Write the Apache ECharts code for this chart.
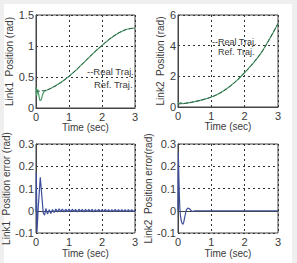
<!DOCTYPE html>
<html>
<head>
<meta charset="utf-8">
<script src="https://cdn.jsdelivr.net/npm/echarts@6/dist/echarts.min.js"></script>
<style>
  html, body { margin: 0; padding: 0; background: #efefef; }
  #wrap { position: relative; width: 297px; height: 263px; overflow: hidden; }
  #paper { position: absolute; left: 4px; top: 4px; width: 288px; height: 259px; background: #fff; }
  #chart { position: absolute; left: 0; top: 0; width: 297px; height: 263px; }
</style>
</head>
<body>
<div id="wrap">
  <div id="paper"></div>
  <div id="chart"></div>
</div>
<script>
// Link1 position (rad)
const refTime1 = [0, 0.25, 0.5, 0.75, 1, 1.25, 1.5, 1.75, 2, 2.25, 2.5, 2.75, 3];
const refPos1 = [0.27, 0.28, 0.33, 0.41, 0.51, 0.63, 0.76, 0.89, 1.01, 1.12, 1.21, 1.27, 1.29];
const realTime1 = [0, 0.02, 0.05, 0.08, 0.12, 0.16, 0.2, 0.25, 0.5, 0.75, 1, 1.25, 1.5, 1.75, 2, 2.25, 2.5, 2.75, 3];
const realPos1 = [0.33, 0.2, 0.3, 0.22, 0.12, 0.13, 0.22, 0.27, 0.33, 0.41, 0.51, 0.63, 0.76, 0.89, 1.01, 1.12, 1.21, 1.27, 1.29];

// Link2 position (rad)
const refTime2 = [0, 0.25, 0.5, 0.75, 1, 1.25, 1.5, 1.75, 2, 2.25, 2.5, 2.75, 3];
const refPos2 = [0.2, 0.25, 0.35, 0.48, 0.65, 0.9, 1.25, 1.7, 2.25, 2.85, 3.55, 4.45, 5.45];
const realTime2 = [0, 0.03, 0.08, 0.15, 0.25, 0.5, 0.75, 1, 1.25, 1.5, 1.75, 2, 2.25, 2.5, 2.75, 3];
const realPos2 = [0.3, 0.2, 0.28, 0.22, 0.25, 0.35, 0.48, 0.65, 0.9, 1.25, 1.7, 2.25, 2.85, 3.55, 4.45, 5.45];

// Link1 position error (rad)
const errTime1 = [0, 0.01, 0.03, 0.07, 0.13, 0.18, 0.22, 0.26, 0.3, 0.35, 0.4, 0.45, 0.5, 0.55,
  0.6, 0.65, 0.7, 0.75, 0.8, 0.85, 0.9, 0.95, 1, 1.05, 1.1, 1.15, 1.2, 1.25, 1.3, 1.35, 1.4, 1.45,
  1.5, 1.55, 1.6, 1.65, 1.7, 1.75, 1.8, 1.85, 1.9, 1.95, 2, 2.05, 2.1, 2.15, 2.2, 2.25, 2.3, 2.35,
  2.4, 2.45, 2.5, 2.55, 2.6, 2.65, 2.7, 2.75, 2.8, 2.85, 2.9, 2.95, 3];
const errVal1 = [0, 0.17, -0.095, 0.02, 0.15, 0.06, -0.01, -0.02, 0.01, -0.015, 0.005, -0.012, 0.006, -0.008,
  0.008, -0.005, 0.009, -0.004, 0.008, -0.005, 0.007, -0.004, 0.008, -0.005, 0.007, -0.004, 0.006, -0.005,
  0.007, -0.004, 0.006, -0.005, 0.006, -0.004, 0.006, -0.004, 0.006, -0.005, 0.005, -0.004, 0.006, -0.004,
  0.005, -0.004, 0.006, -0.004, 0.005, -0.004, 0.005, -0.004, 0.006, -0.004, 0.005, -0.004, 0.005, -0.004,
  0.005, -0.004, 0.005, -0.004, 0.005, -0.004, 0.004];

// Link2 position error (rad)
const errTime2 = [0, 0.01, 0.03, 0.06, 0.1, 0.15, 0.2, 0.25, 0.3, 0.35, 0.4, 0.45, 0.5, 1, 1.5, 2, 2.5, 3];
const errVal2 = [0, 0.26, 0.13, 0.0, -0.045, -0.06, -0.03, 0.002, 0.012, 0.008, 0.0, -0.003, 0, 0, 0, 0, 0, 0];

const timeTicks = [0, 1, 2, 3];

const font = '"Liberation Sans Narrow", "Liberation Sans", Arial, sans-serif';
const txt = '#3a3a3a';

function pairs(t, v) {
  return t.map((x, i) => [x, v[i]]);
}

let grids = [
  { left: 36, top: 15, width: 99, height: 93 },
  { left: 178, top: 15, width: 100, height: 92 },
  { left: 36, top: 144, width: 99, height: 89 },
  { left: 178, top: 144, width: 100, height: 89 }
];
grids = grids.map(g => Object.assign({ show: true, borderColor: '#444', borderWidth: 1, backgroundColor: '#fff' }, g));

const dashed = { show: true, lineStyle: { color: '#333', type: [2, 3], width: 1 } };

function xAx(idx, gap) {
  return {
    gridIndex: idx, type: 'value', min: 0, max: 3, interval: 1,
    name: 'Time (sec)', nameLocation: 'middle', nameGap: gap,
    nameTextStyle: { fontFamily: font, fontSize: 10, color: txt },
    axisLine: { show: true, lineStyle: { color: '#444' } },
    axisTick: { show: false },
    axisLabel: { fontFamily: font, fontSize: 11, color: txt, margin: 3,
      formatter: v => timeTicks.indexOf(v) >= 0 ? String(v) : '' },
    splitLine: dashed
  };
}

function yAx(idx, name, min, max, interval, gap, fmt) {
  return {
    gridIndex: idx, type: 'value', min: min, max: max, interval: interval,
    name: name, nameLocation: 'middle', nameGap: gap,
    nameTextStyle: { fontFamily: font, fontSize: 10, color: txt },
    axisLine: { show: true, lineStyle: { color: '#444' } },
    axisTick: { show: false },
    axisLabel: { fontFamily: font, fontSize: 11, color: txt, margin: 2, formatter: fmt },
    splitLine: dashed
  };
}

const fmtPos1 = v => (v === 0.5 || v === 1.5) ? String(v) : String(Math.round(v));
const fmtErr = v => {
  const r = Math.round(v * 10) / 10;
  return r === 0 ? '0' : String(r);
};

const chart = echarts.init(document.getElementById('chart'), null, { renderer: 'svg' });
chart.setOption({
  animation: false,
  backgroundColor: 'transparent',
  grid: grids,
  xAxis: [xAx(0, 13), xAx(1, 13), xAx(2, 15), xAx(3, 15)],
  yAxis: [
    yAx(0, 'Link1  Position (rad)', 0, 1.5, 0.5, 14, fmtPos1),
    yAx(1, 'Link2  Position (rad)', 0, 6, 2, 10, v => String(v)),
    yAx(2, 'Link1  Position error (rad)', -0.1, 0.3, 0.1, 19, fmtErr),
    yAx(3, 'Link2  Position error(rad)', -0.1, 0.3, 0.1, 18, fmtErr)
  ],
  graphic: [
    { type: 'text', left: 87, top: 66, style: { text: '--Real Traj.', font: '9.5px ' + font, fill: txt } },
    { type: 'text', left: 94, top: 79, style: { text: 'Ref. Traj.', font: '9.5px ' + font, fill: txt } },
    { type: 'text', left: 212, top: 37, style: { text: '--Real Traj.', font: '9px ' + font, fill: txt } },
    { type: 'text', left: 218, top: 47, style: { text: 'Ref. Traj.', font: '9px ' + font, fill: txt } }
  ],
  series: [
    { type: 'line', xAxisIndex: 0, yAxisIndex: 0, data: pairs(realTime1, realPos1), showSymbol: false,
      lineStyle: { color: '#4aa06a', width: 1.2 } },
    { type: 'line', xAxisIndex: 0, yAxisIndex: 0, data: pairs(refTime1, refPos1), showSymbol: false, smooth: true,
      lineStyle: { color: '#2e5a48', width: 1, type: [4, 2] } },
    { type: 'line', xAxisIndex: 1, yAxisIndex: 1, data: pairs(realTime2, realPos2), showSymbol: false, smooth: 0.3,
      lineStyle: { color: '#4aa06a', width: 1.2 } },
    { type: 'line', xAxisIndex: 1, yAxisIndex: 1, data: pairs(refTime2, refPos2), showSymbol: false, smooth: true,
      lineStyle: { color: '#2e5a48', width: 1, type: [4, 2] } },
    { type: 'line', xAxisIndex: 2, yAxisIndex: 2, data: pairs(errTime1, errVal1), showSymbol: false,
      lineStyle: { color: '#3d4f9a', width: 1.2 } },
    { type: 'line', xAxisIndex: 3, yAxisIndex: 3, data: pairs(errTime2, errVal2), showSymbol: false, smooth: 0.3,
      lineStyle: { color: '#3d4f9a', width: 1.2 } }
  ]
});
</script>
</body>
</html>
